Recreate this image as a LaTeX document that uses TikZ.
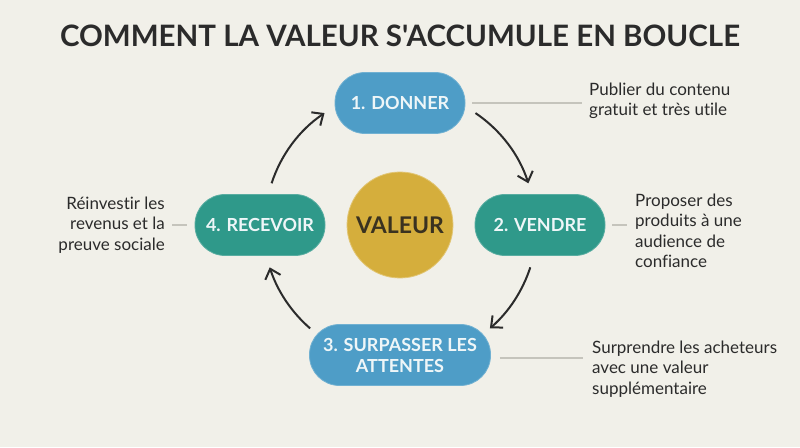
\documentclass[tikz,border=0pt]{standalone}
\usepackage{fontspec}
\setmainfont{Lato}[Ligatures={NoCommon}]
\newfontfamily\titlefont{Lato}[Ligatures={NoCommon}]
\usepackage{xcolor}
\usepackage{tikz}
\usetikzlibrary{calc,arrows.meta}
\definecolor{pageCream}{HTML}{F1F0E9}
\definecolor{inkDark}{HTML}{2B2B2B}
\definecolor{loopBlue}{HTML}{4E9DC7}
\definecolor{loopTeal}{HTML}{2F998A}
\definecolor{valueGold}{HTML}{D5AE3C}
\definecolor{valueInk}{HTML}{3A3220}
\definecolor{pillText}{HTML}{EEF6F8}
\definecolor{leaderGrey}{HTML}{C5C4BC}
\tikzset{
  loopnode/.style={rectangle, rounded corners=30pt, fill=#1, draw=#1!80!white, line width=0.8pt, text=pillText, font=\fontsize{18pt}{21pt}\selectfont\bfseries, align=center, minimum width=130pt, minimum height=61pt, inner sep=0pt},
  valuenode/.style={circle, fill=valueGold, draw=valueGold!70!white, line width=0.8pt, text=valueInk, font=\fontsize{23pt}{25pt}\selectfont\bfseries, minimum size=106pt, inner sep=0pt},
  descnode/.style={text=inkDark, font=\fontsize{17pt}{20.5pt}\selectfont, inner sep=0pt},
  leader/.style={draw=leaderGrey, line width=1.2pt},
  cyclearrow/.style={-{Straight Barb[length=9pt,width=16pt]}, line width=2pt, draw=inkDark},
}
\begin{document}
\begin{tikzpicture}[x=1pt,y=1pt]
  \path[fill=pageCream] (0,0) rectangle (800,447);
  \node[text=inkDark, font=\titlefont\fontsize{29.5pt}{32pt}\selectfont\bfseries] (title) at (400,411) {COMMENT LA VALEUR S'ACCUMULE EN BOUCLE};

  \node[valuenode] (valeur) at (400,222) {VALEUR};
  \node[loopnode=loopBlue] (donner) at (400,344) {1. DONNER};
  \node[loopnode=loopTeal] (vendre) at (540,222) {2. VENDRE};
  \node[loopnode=loopBlue, minimum width=181pt] (surpasser) at (400,92) {3. SURPASSER LES\\ATTENTES};
  \node[loopnode=loopTeal] (recevoir) at (260,222) {4. RECEVOIR};

  % cycle arrows round the centre
  \draw[cyclearrow] ([shift={(56:135)}]valeur.center) arc[start angle=56, end angle=18, radius=135];
  \draw[cyclearrow] ([shift={(-18:137)}]valeur.center) arc[start angle=-18, end angle=-49, radius=137];
  \draw[cyclearrow] ([shift={(-131:137)}]valeur.center) arc[start angle=-131, end angle=-162, radius=137];
  \draw[cyclearrow] ([shift={(162:135)}]valeur.center) arc[start angle=162, end angle=124, radius=135];

  % descriptions
  \node[descnode, anchor=west, align=left] (donnerdesc) at (589,346) {Publier du contenu\\gratuit et très utile};
  \node[descnode, anchor=west, align=left] (vendredesc) at (635,216) {Proposer des\\produits à une\\audience de\\confiance};
  \node[descnode, anchor=west, align=left] (surpasserdesc) at (592,78) {Surprendre les acheteurs\\avec une valeur\\supplémentaire};
  \node[descnode, anchor=east, align=right] (recevoirdesc) at (165,222) {Réinvestir les\\revenus et la\\preuve sociale};

  \draw[leader, shorten <=7pt, shorten >=7pt] (donner.east) -- (donner.east -| donnerdesc.west);
  \draw[leader, shorten <=7pt, shorten >=8pt] (vendre.east) -- (vendre.east -| vendredesc.west);
  \draw[leader, shorten <=9pt, shorten >=9pt] ([yshift=-3pt]surpasser.east) -- ([yshift=-3pt]surpasser.east -| surpasserdesc.west);
  \draw[leader, shorten <=8pt, shorten >=7pt] (recevoir.west) -- (recevoir.west -| recevoirdesc.east);
\end{tikzpicture}
\end{document}
